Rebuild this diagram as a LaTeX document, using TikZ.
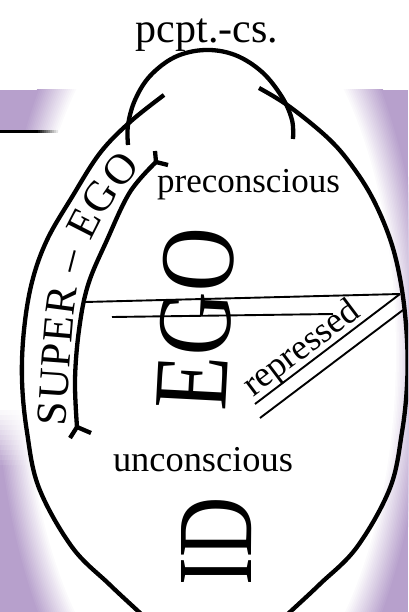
\documentclass[tikz,border=0pt]{standalone}
\usepackage{graphicx}
\usepackage{fontspec}
\setmainfont{Liberation Serif}
\usetikzlibrary{decorations.text}
\definecolor{bgpurple}{RGB}{183,160,204}
\tikzset{
  thickline/.style={line width=4.3pt, line join=round},
  thinline/.style={line width=1.9pt},
  lbl/.style={inner sep=0pt, outer sep=0pt},
}
\begin{document}
\begin{tikzpicture}[x=1pt,y=-1pt]
\useasboundingbox (0,0) rectangle (408,612);
\clip (0,0) rectangle (408,612);
\fill[white] (0,0) rectangle (408,612);
% background band with glow
\begin{scope}
  \clip (0,90) rectangle (408,612);
  \fill[bgpurple] (0,90) rectangle (408,612);
  \foreach \i in {0,...,20} {
    \pgfmathsetmacro\rx{216-1.5*\i}
    \pgfmathsetmacro\ry{438-3.0*\i}
    \pgfmathtruncatemacro\pc{100-5*\i}
    \fill[bgpurple!\pc!white] (210,352) ellipse [x radius=\rx pt, y radius=\ry pt];
  }
\end{scope}
% white area below the left header line, fading out downwards
\fill[white] (0,132.5) rectangle (110,405);
\foreach \j in {0,...,11} {
  \pgfmathsetmacro\op{1-\j/12}
  \fill[white, fill opacity=\op] (0,405+5*\j) rectangle (110,410+5*\j);
}
% left header line fading to the right
\fill[black] (0,130.3) rectangle (36,132.6);
\foreach \k in {0,...,10} {
  \pgfmathtruncatemacro\bk{100-9*\k}
  \fill[black!\bk!white] (36+2*\k,130.3) rectangle (38+2*\k,132.6);
}
% egg outline
\draw[thickline] plot[smooth, tension=0.6] coordinates {
  (164,95) (130,122) (100,153) (72,197) (47,240) (32,282) (24,330) (22,380)
  (27,432) (39,488) (72,547) (109,584) (139,612) (167,638) (214,662)
  (262,638) (290,612) (320,584) (357,547) (390,488) (402,432) (407,385)
  (407,340) (402,290) (392,245) (375,203) (355,170) (330,140) (290,107) (259,88)};
% perception-consciousness arch
\draw[thickline] plot[smooth, tension=0.6] coordinates {
  (128,145) (128,125) (135,100) (150,76) (175,57) (205,50) (235,55)
  (262,72) (282,97) (292,120) (293,139)};
% super-ego bracket
\draw[thickline] plot[smooth, tension=0.6] coordinates {
  (156,162) (130,192) (107,240) (88,285) (79,330) (75,380) (77,427)};
\coordinate (ftop) at (156,162);
\coordinate (fbot) at (77,427);
\draw[thickline] (ftop) -- (155,151);
\draw[thickline] (ftop) -- (168,165);
\draw[thickline] (fbot) -- (70,438);
\draw[thickline] (fbot) -- (91,433);
% separating lines
\coordinate (h1a) at (85,302);
\coordinate (h1b) at (400,294);
\coordinate (h2a) at (112,317);
\coordinate (h2b) at (333,314);
\coordinate (c2) at (255,404);
\coordinate (d1) at (403,310);
\coordinate (d2) at (260,418);
\draw[thinline] (h1a) -- (h1b);
\draw[thinline] (h2a) -- (h2b);
\draw[thinline] (h1b) -- (c2);
\draw[thinline] (d1) -- (d2);
% texts
\node[lbl, anchor=base, font=\fontsize{42}{42}\selectfont] (pcpt) at (207,43) {pcpt.-cs.};
\node[lbl, anchor=base, font=\fontsize{35}{35}\selectfont] (precon) at (248.5,193) {preconscious};
\node[lbl, anchor=base, font=\fontsize{36.4}{36}\selectfont] (uncon) at (203,471) {unconscious};
\node[lbl, anchor=base west, rotate=37, font=\fontsize{36}{36}\selectfont] (repr) at (253,397) {repressed};
\node[lbl, rotate=87] (ego) at (196,319) {\resizebox{182pt}{70pt}{EGO}};
\node[lbl, rotate=90] (id) at (217,541) {\resizebox{88pt}{70pt}{ID}};
\path[decorate, decoration={text along path, text align=fit to path,
  text={|\fontsize{43}{43}\selectfont|SUPER – EGO}}]
  plot[smooth, tension=0.6] coordinates {
  (66,426) (69,380) (72,340) (76,300) (83,262) (95,232) (111,205) (127,184) (141,167)};
\end{tikzpicture}
\end{document}
